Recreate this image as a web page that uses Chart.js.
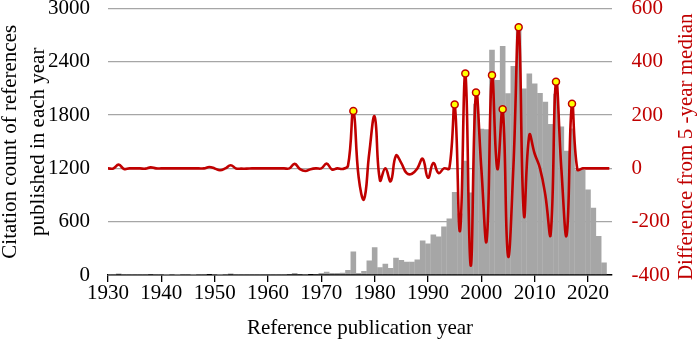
<!DOCTYPE html>
<html>
<head>
<meta charset="utf-8">
<script src="https://cdn.jsdelivr.net/npm/chart.js@4"></script>
<style>
  body { margin: 0; background: #fff; }
  #wrap { width: 699px; height: 341px; }
</style>
</head>
<body>
<div id="wrap"><canvas id="myChart" width="699" height="341"></canvas></div>
<script>
const years = []
for (let y = 1930; y <= 2024; y++) years.push(y)

// citation counts per publication year (left axis)
const counts = [
  2, 3, 16, 2, 3, 2, 3, 2, 6, 2,            // 1930s
  2, 1, 2, 1, 2, 2, 1, 2, 3, 8,             // 1940s
  3, 1, 4, 16, 4, 3, 2, 3, 4, 3,            // 1950s
  4, 3, 4, 4, 5, 22, 5, 4, 8, 10,           // 1960s
  22, 37, 22, 22, 25, 56, 265, 22, 45, 164, // 1970s
  313, 86, 127, 78, 194, 168, 149, 149, 175, 388,          // 1980s
  355, 455, 433, 545, 635, 933, 693, 1287, 928, 1927,      // 1990s
  1646, 1642, 2537, 2194, 2578, 2045, 2354, 2790, 2100, 2268, // 2000s
  2157, 2050, 1950, 1700, 2040, 1671, 1400, 1650, 1187, 1187, // 2010s
  963, 757, 440, 142, 0                                    // 2020s
]

// difference from 5-year median (right axis)
const diffs = [
  0, 0, 14, -2, 0, 0, 0, -1, 4, 0,
  0, 0, 0, 0, 0, 0, 0, 0, 0, 5,
  0, -7, 0, 12, 0, -1, -1, 0, 0, 0,
  0, 0, 0, 0, 0, 17, -3, -10, -3, 0,
  0, 18, -4, 0, -2, 10, 215, -34, -116, 60,
  194, -45, 0, -48, 48, 20, -18, -20, 0, 36,
  -35, 20, -18, 0, 0, 240, -235, 356, -365, 285,
  0, -270, 350, -2, 222, -328, 0, 530, -176, 125,
  55, 0, -100, -247, 325, 0, -250, 243, -4, 0,
  0, 0, 0, 0, 0
]

const markYears = [1976, 1995, 1997, 1999, 2002, 2004, 2007, 2014, 2017]
const xTicks = [1930, 1940, 1950, 1960, 1970, 1980, 1990, 2000, 2010, 2020]
const leftTicks = [0, 600, 1200, 1800, 2400, 3000]
const rightTicks = [-400, -200, 0, 200, 400, 600]

const serif = "'Times New Roman', 'Liberation Serif', serif"
const red = '#c00000'
const rightTitle = 'Difference from 5 -year median'

const rightTitlePlugin = {
  id: 'rightTitle',
  afterDraw(chart) {
    const ctx = chart.ctx
    const area = chart.chartArea
    ctx.save()
    ctx.translate(686, (area.top + area.bottom) / 2 + 5)
    ctx.rotate(-Math.PI / 2)
    ctx.font = '21px ' + serif
    ctx.fillStyle = red
    ctx.textAlign = 'center'
    ctx.textBaseline = 'middle'
    ctx.fillText(rightTitle, 0, 0)
    ctx.restore()
  }
}

const data = {
  labels: years,
  datasets: [
    {
      type: 'line',
      data: diffs,
      yAxisID: 'y2',
      order: 0,
      borderColor: red,
      borderWidth: 2.6,
      tension: 0.45,
      pointRadius: (ctx) => markYears.includes(years[ctx.dataIndex]) ? 3.5 : 0,
      pointBackgroundColor: '#ffff00',
      pointBorderColor: red,
      pointBorderWidth: 1.5
    },
    {
      type: 'bar',
      data: counts,
      yAxisID: 'y',
      order: 1,
      backgroundColor: '#a6a6a6',
      borderWidth: 0,
      categoryPercentage: 1,
      barPercentage: 1.05
    }
  ]
}

const config = {
  type: 'bar',
  data: data,
  plugins: [rightTitlePlugin],
  options: {
    responsive: false,
    animation: false,
    layout: { padding: { top: 8.5, left: 0, right: 0, bottom: 0 } },
    plugins: {
      legend: { display: false },
      tooltip: { enabled: false }
    },
    scales: {
      x: {
        type: 'linear',
        min: 1930,
        max: 2024.5,
        offset: false,
        afterBuildTicks: (scale) => { scale.ticks = xTicks.map(v => ({ value: v })) },
        afterFit: (scale) => {
          scale.height = 66
          scale.paddingLeft = 0
          scale.paddingRight = 0
        },
        grid: {
          offset: false,
          drawOnChartArea: false,
          drawTicks: true,
          tickLength: 7,
          color: '#000',
          lineWidth: 1.3
        },
        border: { display: true, color: '#000', width: 1.5 },
        ticks: {
          color: '#000',
          padding: 1,
          maxRotation: 0,
          font: { family: serif, size: 21, lineHeight: 1 },
          callback: (v) => String(v)
        },
        title: {
          display: true,
          text: 'Reference publication year',
          color: '#000',
          padding: { top: 0, bottom: 0 },
          font: { family: serif, size: 21, lineHeight: 1.2 }
        }
      },
      y: {
        position: 'left',
        min: 0,
        max: 3000,
        afterBuildTicks: (scale) => { scale.ticks = leftTicks.map(v => ({ value: v })) },
        afterFit: (scale) => {
          scale.width = 108
          scale.paddingTop = 0
          scale.paddingBottom = 0
        },
        grid: {
          color: '#a6a6a6',
          lineWidth: 1.3,
          drawTicks: false
        },
        border: { display: false },
        ticks: {
          color: '#000',
          padding: 18,
          font: { family: serif, size: 21, lineHeight: 1 },
          callback: (v) => String(v)
        },
        title: {
          display: true,
          text: ['Citation count of references', 'published in each year'],
          color: '#000',
          padding: { top: -4, bottom: 0 },
          font: { family: serif, size: 21, lineHeight: 1.333 }
        }
      },
      y2: {
        position: 'right',
        min: -400,
        max: 600,
        afterBuildTicks: (scale) => { scale.ticks = rightTicks.map(v => ({ value: v })) },
        afterFit: (scale) => {
          scale.width = 87
          scale.paddingTop = 0
          scale.paddingBottom = 0
        },
        grid: { drawOnChartArea: false, drawTicks: false },
        border: { display: false },
        ticks: {
          color: red,
          padding: 19.5,
          font: { family: serif, size: 21, lineHeight: 1 },
          callback: (v) => String(v)
        }
      }
    }
  }
}

var myChart = new Chart(document.getElementById('myChart'), config)
</script>
</body>
</html>
